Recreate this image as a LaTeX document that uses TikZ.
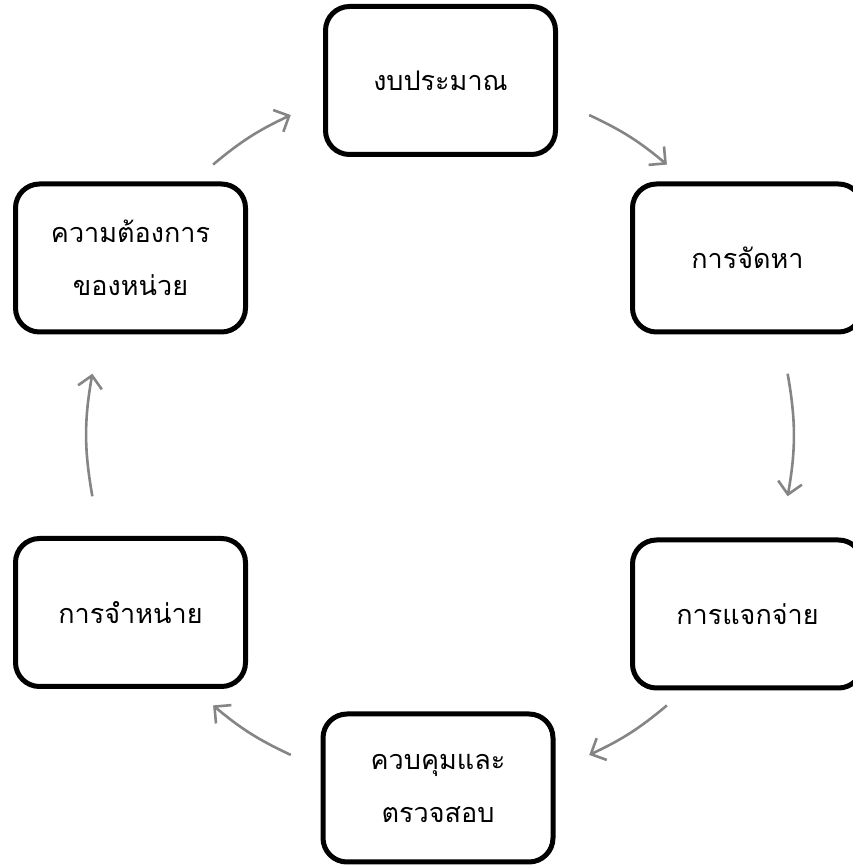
\documentclass[tikz,border=0pt]{standalone}
\usepackage{fontspec}
\newfontfamily\thaifont[Script=Thai]{Loma}
\usetikzlibrary{arrows.meta}
\begin{document}
\begin{tikzpicture}[x=1pt,y=1pt,
  stagebox/.style={draw=black, line width=5pt, rounded corners=24pt, fill=white,
    minimum width=230pt, minimum height=148pt, align=center, inner sep=0pt,
    font=\thaifont\fontsize{27}{53}\selectfont},
  cyclearrow/.style={draw=black!48, line width=2.6pt,
    -{Straight Barb[length=12pt,width=24pt,line width=2.6pt]}}]
\useasboundingbox (0,0) rectangle (853,867);
\clip (0,0) rectangle (853,867);
\node[stagebox] (b1) at (440.5,786.5) {งบประมาณ};
\node[stagebox] (b2) at (747.5,609) {การจัดหา};
\node[stagebox] (b3) at (747.5,253) {การแจกจ่าย};
\node[stagebox] (b4) at (438,79) {ควบคุมและ\\ตรวจสอบ};
\node[stagebox] (b5) at (130.5,254.5) {การจำหน่าย};
\node[stagebox] (b6) at (130.5,609) {ความต้องการ\\ของหน่วย};
\coordinate (O) at (440,432);
\coordinate (a1s) at ([shift={(130:353)}]O);
\coordinate (a1e) at ([shift={(115:353)}]O);
\coordinate (a2s) at ([shift={(65:353)}]O);
\coordinate (a2e) at ([shift={(50:353)}]O);
\coordinate (a3s) at ([shift={(10:353)}]O);
\coordinate (a3e) at ([shift={(-10:353)}]O);
\coordinate (a4s) at ([shift={(-50:353)}]O);
\coordinate (a4e) at ([shift={(-65:353)}]O);
\coordinate (a5s) at ([shift={(-115:353)}]O);
\coordinate (a5e) at ([shift={(-130:353)}]O);
\coordinate (a6s) at ([shift={(190:353)}]O);
\coordinate (a6e) at ([shift={(170:353)}]O);
\draw[cyclearrow] (a1s) to[bend left=7.5] (a1e);
\draw[cyclearrow] (a2s) to[bend left=7.5] (a2e);
\draw[cyclearrow] (a3s) to[bend left=10] (a3e);
\draw[cyclearrow] (a4s) to[bend left=7.5] (a4e);
\draw[cyclearrow] (a5s) to[bend left=7.5] (a5e);
\draw[cyclearrow] (a6s) to[bend left=10] (a6e);
\end{tikzpicture}
\end{document}
